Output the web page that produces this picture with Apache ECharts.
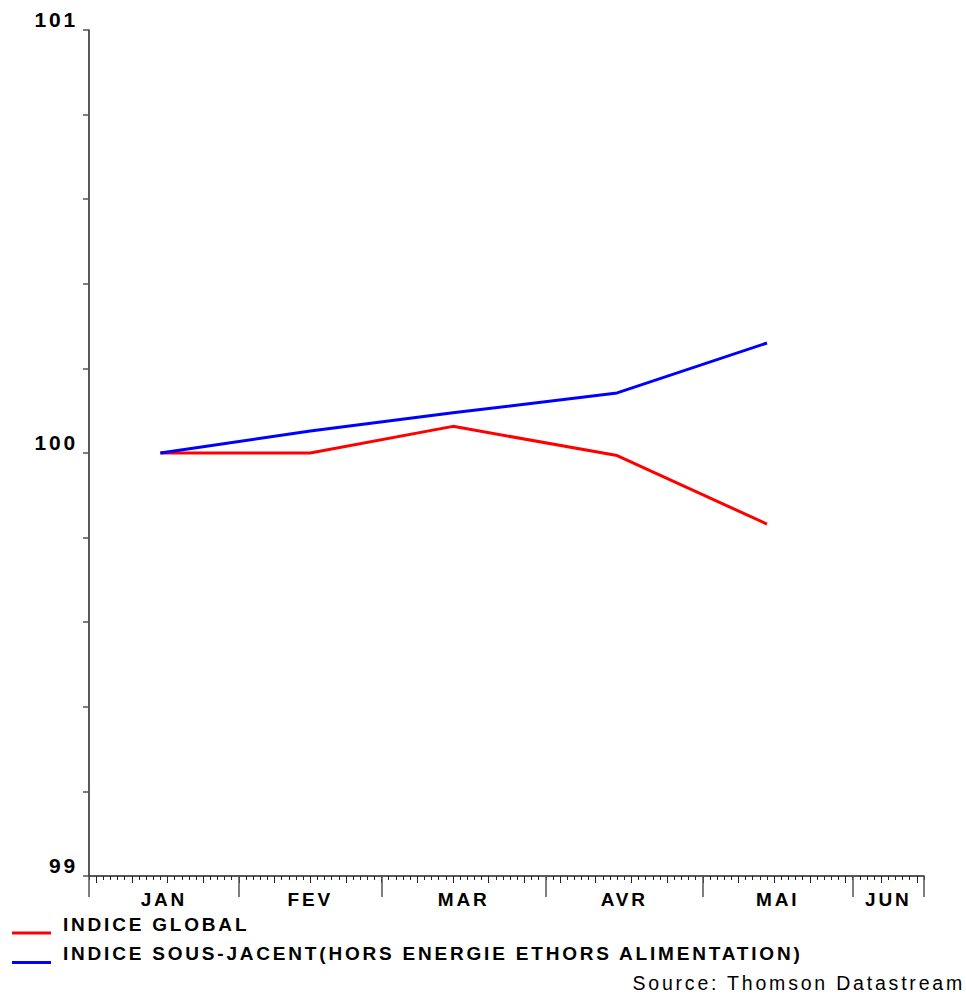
<!DOCTYPE html>
<html>
<head>
<meta charset="utf-8">
<script src="https://cdn.jsdelivr.net/npm/echarts@6/dist/echarts.min.js"></script>
<style>
  html, body { margin: 0; padding: 0; background: #fff; }
  #chart { width: 966px; height: 994px; }
  #chart text { letter-spacing: 2.8px; }
</style>
</head>
<body>
<div id="chart"></div>
<script>
// Trading-day calendar shown on the horizontal axis
const firstDay = '2010-01-01';
const lastDay = '2010-06-15';
const monthLabels = ['JAN', 'FEV', 'MAR', 'AVR', 'MAI', 'JUN'];

// Monthly observations (index, January = 100)
const obsDates = ['2010-01-15', '2010-02-15', '2010-03-15', '2010-04-15', '2010-05-14'];
const indiceGlobal = [100.0, 100.0, 100.063, 99.994, 99.832];
const indiceSousJacent = [100.0, 100.052, 100.095, 100.142, 100.26];

// Value-axis tick labels
const yLabels = [99, 100, 101];

const seriesNames = ['INDICE GLOBAL', 'INDICE SOUS-JACENT(HORS ENERGIE ETHORS ALIMENTATION)'];
const sourceText = 'Source: Thomson Datastream';

const FONT = '"Liberation Sans", Arial, sans-serif';
const AXIS = '#222';

function weekdays(start, end) {
  const out = [];
  const d = new Date(start + 'T00:00:00Z');
  const stop = new Date(end + 'T00:00:00Z');
  while (d <= stop) {
    const w = d.getUTCDay();
    if (w !== 0 && w !== 6) out.push(d.toISOString().slice(0, 10));
    d.setUTCDate(d.getUTCDate() + 1);
  }
  return out;
}

const days = weekdays(firstDay, lastDay);
const last = days.length - 1;

// first trading day of each month
const monthStarts = [];
days.forEach((d, i) => {
  if (i === 0 || d.slice(5, 7) !== days[i - 1].slice(5, 7)) monthStarts.push(i);
});
const monthBounds = monthStarts.concat([last]);
const labelAt = {};
monthStarts.forEach((s, k) => {
  labelAt[((s + monthBounds[k + 1]) / 2).toFixed(1)] = monthLabels[k];
});
const isMonday = i => new Date(days[i] + 'T00:00:00Z').getUTCDay() === 1;

const baseCat = {
  type: 'category',
  data: days,
  boundaryGap: false,
  gridIndex: 0,
  position: 'bottom',
  axisLabel: { show: false },
  splitLine: { show: false }
};

// legend key: a short bar sitting below the text's centre line
const keyIcon = 'path://M0,0L0.01,0M0,18L40,18L40,21L0,21Z';

const chart = echarts.init(document.getElementById('chart'), null, { renderer: 'svg' });
chart.setOption({
  animation: false,
  backgroundColor: '#fff',
  grid: { left: 89, right: 42, top: 30, bottom: 118, containLabel: false },
  xAxis: [
    Object.assign({}, baseCat, {
      axisLine: { show: true, lineStyle: { color: AXIS, width: 1.5 } },
      axisTick: { show: true, interval: 0, length: 4, lineStyle: { color: AXIS, width: 1 } }
    }),
    Object.assign({}, baseCat, {
      axisLine: { show: false },
      axisTick: { show: true, interval: (i) => isMonday(i), length: 7, lineStyle: { color: AXIS, width: 1 } }
    }),
    Object.assign({}, baseCat, {
      axisLine: { show: false },
      axisTick: { show: true, interval: (i) => monthBounds.indexOf(i) >= 0, length: 21, lineStyle: { color: '#555', width: 1.5 } }
    }),
    {
      type: 'value',
      gridIndex: 0,
      position: 'bottom',
      min: 0,
      max: last,
      interval: 0.5,
      axisLine: { show: false },
      axisTick: { show: false },
      splitLine: { show: false },
      axisLabel: {
        show: true,
        margin: 14,
        color: '#000',
        fontFamily: FONT,
        fontWeight: 'bold',
        fontSize: 19,
        showMinLabel: true,
        showMaxLabel: true,
        formatter: (v) => labelAt[v.toFixed(1)] || ''
      }
    }
  ],
  yAxis: {
    type: 'value',
    min: 99,
    max: 101,
    interval: 0.2,
    axisLine: { show: true, lineStyle: { color: AXIS, width: 1.5 } },
    axisTick: { show: true, length: 6, lineStyle: { color: '#555', width: 1.5 } },
    splitLine: { show: false },
    axisLabel: {
      margin: 11,
      verticalAlign: 'bottom',
      color: '#000',
      fontFamily: FONT,
      fontWeight: 'bold',
      fontSize: 21,
      formatter: (v) => {
        const r = Math.round(v);
        return (Math.abs(v - r) < 1e-6 && yLabels.indexOf(r) >= 0) ? String(r) : '';
      }
    }
  },
  legend: {
    orient: 'vertical',
    left: 12,
    top: 914,
    padding: 0,
    itemWidth: 39,
    itemHeight: 21,
    itemGap: 9,
    icon: keyIcon,
    itemStyle: { borderWidth: 0 },
    selectedMode: false,
    textStyle: {
      color: '#000',
      fontFamily: FONT,
      fontWeight: 'bold',
      fontSize: 19,
      padding: [0, 0, 0, 7]
    },
    data: seriesNames
  },
  graphic: [{
    type: 'text',
    x: 965,
    y: 983,
    style: {
      text: sourceText,
      align: 'right',
      verticalAlign: 'middle',
      fill: '#000',
      font: '19.5px ' + FONT
    }
  }],
  series: [
    {
      name: seriesNames[0],
      type: 'line',
      xAxisIndex: 0,
      symbol: 'none',
      color: '#ff0000',
      lineStyle: { color: '#ff0000', width: 3 },
      data: obsDates.map((d, i) => [d, indiceGlobal[i]])
    },
    {
      name: seriesNames[1],
      type: 'line',
      xAxisIndex: 0,
      symbol: 'none',
      color: '#0000ff',
      lineStyle: { color: '#0000ff', width: 3 },
      data: obsDates.map((d, i) => [d, indiceSousJacent[i]])
    }
  ]
});
</script>
</body>
</html>
